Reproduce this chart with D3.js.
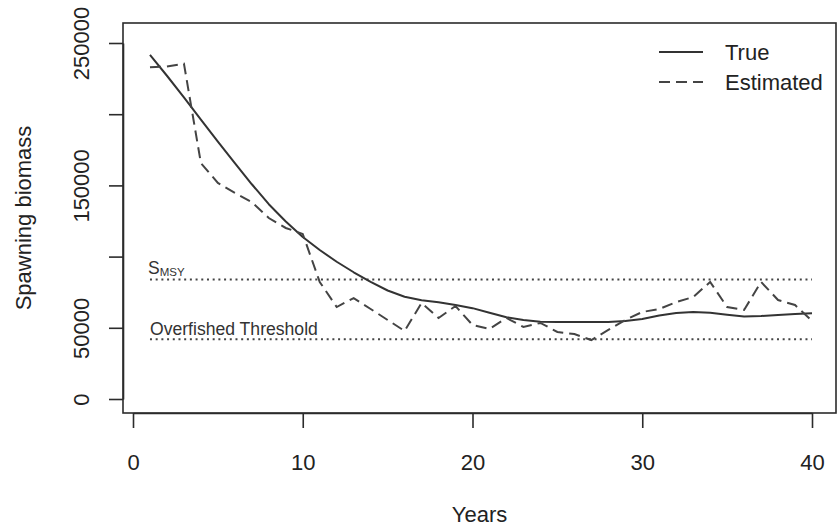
<!DOCTYPE html>
<html>
<head>
<meta charset="utf-8">
<script src="https://cdn.jsdelivr.net/npm/d3@7/dist/d3.min.js"></script>
<style>
  html, body { margin: 0; padding: 0; background: #fff; }
  svg { display: block; font-family: "Liberation Sans", Arial, Helvetica, sans-serif; }
</style>
</head>
<body>
<svg id="chart" width="838" height="532"></svg>
<script>
// Years of the simulation
const years = [1, 2, 3, 4, 5, 6, 7, 8, 9, 10,
               11, 12, 13, 14, 15, 16, 17, 18, 19, 20,
               21, 22, 23, 24, 25, 26, 27, 28, 29, 30,
               31, 32, 33, 34, 35, 36, 37, 38, 39, 40];

// Operating-model (true) spawning biomass
const trueBiomass = [241600, 227000, 211800, 196200, 180800, 165600, 150800, 136800, 124600, 113800,
                     104600, 96400, 89000, 82200, 76200, 71800, 69400, 67900, 66000, 63800,
                     60600, 57400, 55400, 54300, 54000, 54000, 54000, 54000, 54800, 56200,
                     58600, 60400, 61100, 60600, 59200, 58000, 58300, 59000, 59700, 60200];

// Assessment-model (estimated) spawning biomass
const estBiomass = [233000, 233500, 235500, 165700, 151700, 144700, 138300, 127100, 120100, 115900,
                    82200, 64600, 70900, 63200, 55500, 47800, 67400, 56900, 65300, 52000,
                    49200, 56900, 50600, 53400, 47100, 45600, 41400, 48500, 55500, 61100,
                    63200, 68100, 71600, 82200, 64600, 62500, 82200, 69500, 66000, 54800];

// Reference points
const sMSY = 84000;
const overfishedThreshold = 42000;

// Axis ticks and the labels printed beside them
const xTicks = [0, 10, 20, 30, 40];
const yTicks = [0, 50000, 100000, 150000, 200000, 250000];
const yTickLabels = ["0", "50000", "", "150000", "", "250000"];

const seriesNames = ["True", "Estimated"];

const svg = d3.select("#chart");
const ink = "#2b2b2b";
const box = { left: 123, right: 836, top: 23, bottom: 413 };

const x = d3.scaleLinear().domain([0, 40]).range([133, 812]);
const y = d3.scaleLinear().domain([0, 250000]).range([399, 43]);

// Plot frame
svg.append("rect")
  .attr("x", box.left).attr("y", box.top)
  .attr("width", box.right - box.left).attr("height", box.bottom - box.top)
  .attr("fill", "none").attr("stroke", ink).attr("stroke-width", 1.6);

// X axis
const gx = svg.append("g")
  .attr("transform", `translate(0,${box.bottom})`)
  .call(d3.axisBottom(x).tickValues(xTicks).tickSize(15).tickSizeOuter(0));
gx.select(".domain").attr("stroke", ink).attr("stroke-width", 1.6);
gx.selectAll(".tick line").attr("stroke", ink).attr("stroke-width", 1.6);
gx.selectAll(".tick text")
  .attr("y", 57).attr("dy", null)
  .attr("fill", "#222").attr("font-size", 22)
  .attr("font-family", "Liberation Sans, Arial, sans-serif");

// Y axis
const gy = svg.append("g")
  .attr("transform", `translate(${box.left},0)`)
  .call(d3.axisLeft(y).tickValues(yTicks).tickSize(14).tickSizeOuter(0)
        .tickFormat((d, i) => yTickLabels[i]));
gy.select(".domain").attr("stroke", ink).attr("stroke-width", 1.6);
gy.selectAll(".tick line").attr("stroke", ink).attr("stroke-width", 1.6);
gy.selectAll(".tick text")
  .attr("x", 0).attr("y", 0).attr("dy", null)
  .attr("transform", "translate(-34,0) rotate(-90)")
  .attr("text-anchor", "middle")
  .attr("fill", "#222").attr("font-size", 22)
  .attr("font-family", "Liberation Sans, Arial, sans-serif");

// Axis titles
svg.append("text")
  .attr("x", (box.left + box.right) / 2).attr("y", 522)
  .attr("text-anchor", "middle").attr("font-size", 22).attr("fill", "#222")
  .text("Years");
svg.append("text")
  .attr("transform", `translate(31,${(box.top + box.bottom) / 2}) rotate(-90)`)
  .attr("text-anchor", "middle").attr("font-size", 22).attr("fill", "#222")
  .text("Spawning biomass");

// Reference lines
const refLine = v => svg.append("line")
  .attr("x1", x(years[0])).attr("x2", x(years[years.length - 1]))
  .attr("y1", y(v)).attr("y2", y(v))
  .attr("stroke", "#444").attr("stroke-width", 2)
  .attr("stroke-dasharray", "2,3.7");
refLine(sMSY);
refLine(overfishedThreshold);

const sLabel = svg.append("text")
  .attr("x", x(years[0]) - 2).attr("y", y(sMSY) - 5)
  .attr("font-size", 17.5).attr("fill", "#333");
sLabel.append("tspan").text("S");
sLabel.append("tspan").attr("font-size", 11.5).attr("dy", 2).text("MSY");

svg.append("text")
  .attr("x", x(years[0])).attr("y", y(overfishedThreshold) - 4)
  .attr("font-size", 17.6).attr("fill", "#333")
  .text("Overfished Threshold");

// Biomass trajectories
const line = d3.line().x((d, i) => x(years[i])).y(d => y(d));

svg.append("path").datum(trueBiomass)
  .attr("d", line)
  .attr("fill", "none").attr("stroke", "#333").attr("stroke-width", 2)
  .attr("stroke-linejoin", "round");

svg.append("path").datum(estBiomass)
  .attr("d", line)
  .attr("fill", "none").attr("stroke", "#444").attr("stroke-width", 2)
  .attr("stroke-dasharray", "11,6");

// Legend
const legend = svg.append("g");
seriesNames.forEach((name, i) => {
  const ly = 52 + i * 30;
  legend.append("line")
    .attr("x1", 659).attr("x2", 703).attr("y1", ly).attr("y2", ly)
    .attr("stroke", i === 0 ? "#333" : "#444").attr("stroke-width", 2)
    .attr("stroke-dasharray", i === 0 ? null : "11,6");
  legend.append("text")
    .attr("x", 725).attr("y", ly + 8)
    .attr("font-size", 22).attr("fill", "#222")
    .text(name);
});
</script>
</body>
</html>
